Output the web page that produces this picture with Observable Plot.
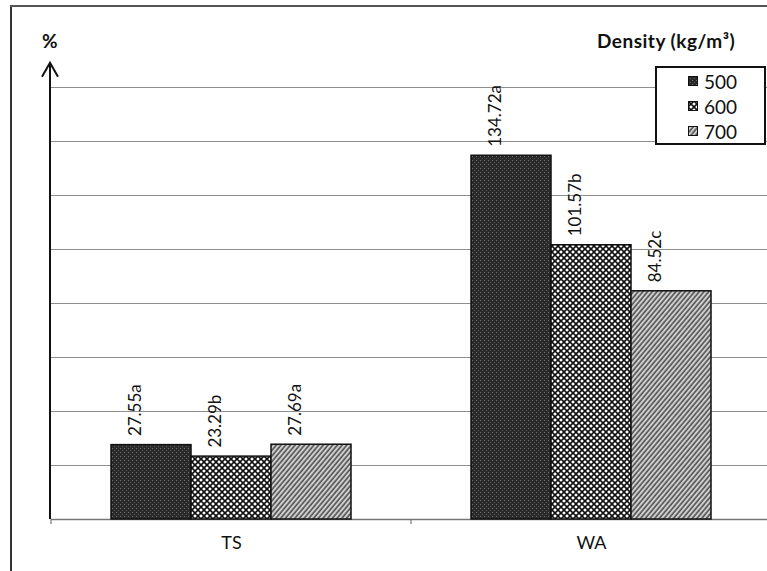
<!DOCTYPE html>
<html><head><meta charset="utf-8">
<script src="https://cdn.jsdelivr.net/npm/d3@7"></script>
<script src="https://cdn.jsdelivr.net/npm/@observablehq/plot@0.6"></script>
<style>
body{margin:0;background:#fff;}
#wrap{position:relative;width:767px;height:571px;overflow:hidden;font-family:Lato,"Open Sans",sans-serif;color:#111;}
#chart{position:absolute;left:0;top:0;}
.frameL{position:absolute;left:10px;top:5px;width:2px;height:566px;background:#333;}
.frameT{position:absolute;left:10px;top:5px;width:757px;height:2px;background:#555;}
#pct{position:absolute;left:42px;top:30px;font-weight:bold;font-size:19px;line-height:22px;}
#dens{position:absolute;left:597px;top:30px;font-weight:bold;font-size:19px;line-height:22px;letter-spacing:0.5px;white-space:nowrap;}
#legend{position:absolute;left:655px;top:66px;width:107px;height:75px;border:2px solid #111;background:#fff;}
.row{position:absolute;left:31px;height:24px;display:flex;align-items:center;font-size:19px;}
.sw{width:10px;height:10px;margin-right:6px;display:block;}
</style></head>
<body>
<svg width="0" height="0" style="position:absolute">
  <defs>
    <pattern id="p500" width="4" height="4" patternUnits="userSpaceOnUse">
      <rect width="4" height="4" fill="#2a2a2a"/>
      <rect x="0" y="0" width="1" height="1" fill="#707070"/>
      <rect x="2" y="2" width="1" height="1" fill="#5a5a5a"/>
    </pattern>
    <pattern id="p600" width="6" height="6" patternUnits="userSpaceOnUse">
      <rect width="6" height="6" fill="#fff"/>
      <path d="M0,0L6,6M6,0L0,6" stroke="#111" stroke-width="1.6"/>
    </pattern>
    <pattern id="p700" width="3.6" height="10" patternUnits="userSpaceOnUse" patternTransform="rotate(40)">
      <rect width="3.6" height="10" fill="#cfcfcf"/>
      <line x1="1" y1="0" x2="1" y2="10" stroke="#4a4a4a" stroke-width="1.5"/>
    </pattern>
  </defs>
</svg>
<div id="wrap">
  <div id="chart"></div>
  <div class="frameL"></div>
  <div class="frameT"></div>
  <div id="pct">%</div>
  <div id="dens">Density (kg/m³)</div>
  <div id="legend"></div>
</div>
<script>
const categories = ["TS", "WA"];
const densities = ["500", "600", "700"];
const values500 = [27.55, 134.72];
const values600 = [23.29, 101.57];
const values700 = [27.69, 84.52];
const letters500 = ["a", "a"];
const letters600 = ["b", "b"];
const letters700 = ["a", "c"];
const gridTicks = [20, 40, 60, 80, 100, 120, 140, 160];
const axisTop = 169;
const patterns = ["url(#p500)", "url(#p600)", "url(#p700)"];

const series = [values500, values600, values700];
const letters = [letters500, letters600, letters700];
const rows = [];
categories.forEach((c, i) => densities.forEach((d, j) => {
  rows.push({cat: c, density: d, value: series[j][i], label: series[j][i].toFixed(2) + letters[j][i]});
}));

const chart = Plot.plot({
  width: 767, height: 571,
  marginLeft: 51, marginRight: -4, marginTop: 87, marginBottom: 52,
  style: {fontFamily: "Lato, 'Open Sans', sans-serif", fontSize: "18px", color: "#111", background: "transparent"},
  fx: {domain: categories, padding: 0, label: null, tickSize: 0, tickPadding: 17},
  x: {axis: null, domain: densities, paddingInner: 0, paddingOuter: 0.747},
  y: {axis: null, domain: [0, 160]},
  color: {domain: densities, range: patterns},
  marks: [
    Plot.ruleY(gridTicks, {stroke: "#8e8e8e", strokeWidth: 1}),
    Plot.ruleY([0], {stroke: "#777", strokeWidth: 1.3}),
    Plot.barY(rows, {fx: "cat", x: "density", y: "value", fill: "density", stroke: "#111", strokeWidth: 1.5}),
    Plot.text(rows, {fx: "cat", x: "density", y: "value", text: "label", rotate: -90, textAnchor: "start", dy: -9, dx: -16, fontSize: 17, fill: "#111"})
  ]
});
document.getElementById("chart").appendChild(chart);

// y axis arrow and x ticks from the plot's scales
const ys = chart.scale("y"), fxs = chart.scale("fx");
const svg = d3.select(chart);
const ax = fxs.apply(categories[0]) - 1;
const y0 = ys.apply(0), yt = ys.apply(axisTop);
svg.append("line").attr("x1", ax).attr("x2", ax).attr("y1", y0).attr("y2", yt + 1)
  .attr("stroke", "#111").attr("stroke-width", 2);
svg.append("path").attr("d", `M${ax - 8},${yt + 14}L${ax},${yt}L${ax + 8},${yt + 14}`)
  .attr("fill", "none").attr("stroke", "#111").attr("stroke-width", 2);
categories.forEach(c => {
  const x = fxs.apply(c);
  svg.append("line").attr("x1", x).attr("x2", x).attr("y1", y0).attr("y2", y0 + 5)
    .attr("stroke", "#777").attr("stroke-width", 1.2);
});

// legend
const leg = document.getElementById("legend");
densities.forEach((d, i) => {
  const r = document.createElement("div");
  r.className = "row";
  r.style.top = (1 + i * 25) + "px";
  r.innerHTML = `<svg class="sw" width="10" height="10"><rect x="0.5" y="0.5" width="9" height="9" fill="${patterns[i]}" stroke="#111" stroke-width="1"/></svg><span>${d}</span>`;
  leg.appendChild(r);
});
</script>
</body></html>
